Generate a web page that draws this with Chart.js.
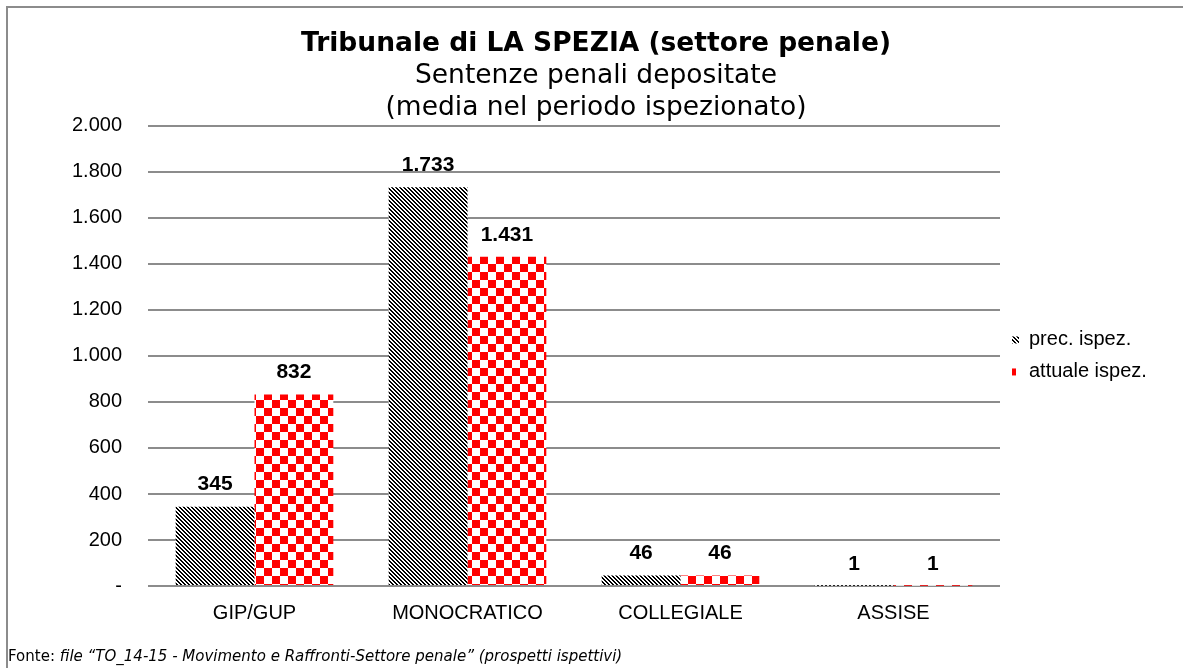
<!DOCTYPE html>
<html>
<head>
<meta charset="utf-8">
<script src="https://cdn.jsdelivr.net/npm/chart.js@4.4.0/dist/chart.umd.min.js"></script>
<style>
html, body { margin: 0; padding: 0; background: #fff; overflow: hidden; }
#wrap { position: relative; width: 1183px; height: 668px; }
#frame { position: absolute; left: 6px; top: 6px; width: 1300px; height: 800px; border: 2px solid #8c8c8c; box-sizing: border-box; }
#myChart { position: absolute; left: 0; top: 0; }
#fonte { position: absolute; left: 8px; top: 647px; font-family: 'DejaVu Sans'; font-size: 15px; color: #000; white-space: nowrap; }
</style>
</head>
<body>
<div id="wrap">
  <div id="frame"></div>
  <canvas id="myChart" width="1183" height="668"></canvas>
  <div id="fonte">Fonte: <i>file “TO_14-15 - Movimento e Raffronti-Settore penale” (prospetti ispettivi)</i></div>
</div>
<script>
const categories = ['GIP/GUP', 'MONOCRATICO', 'COLLEGIALE', 'ASSISE'];
const precIspez = [345, 1733, 46, 1];
const attualeIspez = [832, 1431, 46, 1];
const yTicks = [0, 200, 400, 600, 800, 1000, 1200, 1400, 1600, 1800, 2000];

// fill patterns like the Excel ones
function stripes() {
    const c = document.createElement('canvas');
    c.width = 4; c.height = 4;
    const g = c.getContext('2d');
    g.fillStyle = '#fff';
    g.fillRect(0, 0, 4, 4);
    g.fillStyle = '#000';
    for (let y = 0; y < 4; y++) {
        for (let x = 0; x < 4; x++) {
            if (((x - y) % 4 + 4) % 4 < 2) g.fillRect(x, y, 1, 1);
        }
    }
    return g.createPattern(c, 'repeat');
}
function checker() {
    const c = document.createElement('canvas');
    c.width = 16; c.height = 16;
    const g = c.getContext('2d');
    g.fillStyle = '#fff';
    g.fillRect(0, 0, 16, 16);
    g.fillStyle = '#ff0000';
    g.fillRect(0, 0, 8, 8);
    g.fillRect(8, 8, 8, 8);
    return g.createPattern(c, 'repeat');
}

const fmt = v => v === 0 ? '-' : v.toLocaleString('it-IT');

const valueLabels = {
    id: 'valueLabels',
    afterDatasetsDraw(chart) {
        const c = chart.ctx;
        c.save();
        c.font = 'bold 21px "Liberation Sans"';
        c.fillStyle = '#000';
        c.textAlign = 'center';
        c.textBaseline = 'middle';
        chart.data.datasets.forEach((ds, i) => {
            chart.getDatasetMeta(i).data.forEach((bar, j) => {
                c.fillText(fmt(ds.data[j]), bar.x, bar.y - 22);
            });
        });
        c.restore();
    }
};

// legend sits in a fixed-width column on the right
const legendWidth = {
    id: 'legendWidth',
    beforeLayout(chart) {
        const lg = chart.legend;
        if (!lg || lg._fixed) return;
        lg._fixed = true;
        const fit = lg.fit;
        lg.fit = function () { fit.call(this); this.width = 183; };
    }
};

const ctx = document.getElementById('myChart');
const PLOT = new Chart(ctx, {
    type: 'bar',
    data: {
        labels: categories,
        datasets: [{
            label: 'prec. ispez.',
            data: precIspez,
            backgroundColor: stripes(),
            borderWidth: 0
        }, {
            label: 'attuale ispez.',
            data: attualeIspez,
            backgroundColor: checker(),
            borderWidth: 0
        }]
    },
    options: {
        responsive: false,
        animation: false,
        datasets: {
            bar: { barPercentage: 1, categoryPercentage: 0.74 }
        },
        layout: { padding: { left: 9, right: 0, top: 0, bottom: 36 } },
        plugins: {
            title: {
                display: true,
                text: 'Tribunale di LA SPEZIA (settore penale)',
                color: '#000',
                font: { family: 'DejaVu Sans', size: 26.5, weight: 'bold', lineHeight: 1.2 },
                padding: { top: 28, bottom: 0 }
            },
            subtitle: {
                display: true,
                text: ['Sentenze penali depositate', '(media nel periodo ispezionato)'],
                color: '#000',
                font: { family: 'DejaVu Sans', size: 26.5, lineHeight: 1.21 },
                padding: { top: 0, bottom: 2 }
            },
            legend: {
                position: 'right',
                fullSize: false,
                labels: {
                    boxWidth: 7,
                    boxHeight: 7,
                    padding: 12,
                    color: '#000',
                    font: { family: 'Liberation Sans', size: 20 }
                }
            },
            tooltip: { enabled: false }
        },
        scales: {
            x: {
                grid: { display: false },
                border: { display: false },
                ticks: {
                    color: '#000',
                    padding: 7,
                    font: { family: 'Liberation Sans', size: 20 }
                }
            },
            y: {
                min: 0,
                max: 2000,
                afterFit: s => { s.width = 139; },
                afterBuildTicks: s => { s.ticks = yTicks.map(v => ({ value: v })); },
                grid: { color: '#8c8c8c', lineWidth: 2, drawTicks: false },
                border: { display: false },
                ticks: {
                    color: '#000',
                    padding: 26,
                    font: { family: 'Liberation Sans', size: 20 },
                    callback: v => fmt(v)
                }
            }
        }
    },
    plugins: [valueLabels, legendWidth]
});
</script>
</body>
</html>
